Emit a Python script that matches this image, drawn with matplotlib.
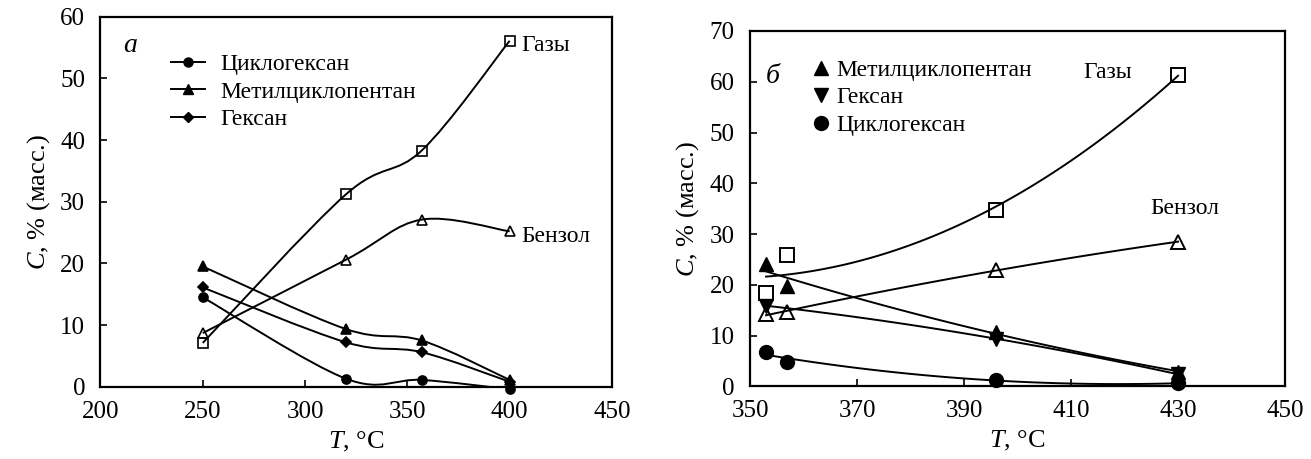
import numpy as np
import matplotlib
matplotlib.use("Agg")
import matplotlib.pyplot as plt
from matplotlib.path import Path
from matplotlib.patches import PathPatch

plt.rcParams['font.family'] = ['Liberation Serif', 'DejaVu Serif']
plt.rcParams['mathtext.fontset'] = 'custom'
plt.rcParams['mathtext.rm'] = 'Liberation Serif'
plt.rcParams['mathtext.it'] = 'Liberation Serif:italic'
plt.rcParams['font.size'] = 17

# panel a (smoothed lines)
t_a = [250, 320, 357, 400]
gas_a = [7.1, 31.2, 38.3, 56.1]
benz_a = [8.7, 20.6, 27.1, 25.2]
mcp_a = [19.5, 9.35, 7.5, 1.1]
hex_a = [16.1, 7.2, 5.6, 0.8]
chx_a = [14.5, 1.3, 1.1, -0.4]

# panel b (points + trend lines)
t_b = [353, 357, 396, 430]
gas_b = [18.4, 25.8, 34.7, 61.4]
benz_b = [14.3, 14.6, 22.9, 28.5]
mcp_b = [24.1, 19.7, 10.7, 2.9]
t_hex_b = [353, 396, 430]
hex_b = [15.9, 9.4, 2.4]
chx_b = [6.8, 4.9, 1.3, 0.6]


def smooth_path(x, y):
    # Excel-like smoothed line: Catmull-Rom segments as cubic Bezier
    pts = np.column_stack([x, y]).astype(float)
    verts = [pts[0]]
    codes = [Path.MOVETO]
    n = len(pts)
    for i in range(n - 1):
        p0 = pts[i - 1] if i > 0 else pts[i]
        p1 = pts[i]
        p2 = pts[i + 1]
        p3 = pts[i + 2] if i + 2 < n else pts[i + 1]
        verts += [p1 + (p2 - p0) / 6, p2 - (p3 - p1) / 6, p2]
        codes += [Path.CURVE4] * 3
    return Path(verts, codes)


def smooth_series(ax, x, y, marker, mfc, ms):
    ax.add_patch(PathPatch(smooth_path(x, y), fc='none', ec='black', lw=1.4))
    ax.plot(x, y, ls='none', marker=marker, mfc=mfc, mec='black', ms=ms,
            mew=1.2, clip_on=False, zorder=3)


def trend(ax, x, y, deg=2):
    coef = np.polyfit(x, y, deg)
    xx = np.linspace(min(x), max(x), 100)
    ax.plot(xx, np.polyval(coef, xx), color='black', lw=1.4)


fig = plt.figure(figsize=(13.11, 4.59), dpi=100)
ax1 = fig.add_axes([0.0766, 0.1575, 0.3902, 0.806])
ax2 = fig.add_axes([0.5721, 0.158, 0.4081, 0.7745])

# ---- panel a
smooth_series(ax1, t_a, gas_a, 's', 'none', 6.5)
smooth_series(ax1, t_a, benz_a, '^', 'none', 6.5)
smooth_series(ax1, t_a, mcp_a, '^', 'black', 6.5)
smooth_series(ax1, t_a, hex_a, 'D', 'black', 5.5)
smooth_series(ax1, t_a, chx_a, 'o', 'black', 6.5)

h1, = ax1.plot([], [], color='black', lw=1.4, marker='o', ms=6.5, label='Циклогексан')
h2, = ax1.plot([], [], color='black', lw=1.4, marker='^', ms=6.5, label='Метилциклопентан')
h3, = ax1.plot([], [], color='black', lw=1.4, marker='D', ms=5.5, label='Гексан')
ax1.legend(handles=[h1, h2, h3], loc='upper left', bbox_to_anchor=(0.138, 0.9),
           frameon=False, borderpad=0, borderaxespad=0, handlelength=1.45,
           handletextpad=0.65, labelspacing=0.25, fontsize=17)

ax1.set_xlim(200, 450)
ax1.set_ylim(0, 60)
ax1.set_xticks([200, 250, 300, 350, 400, 450])
ax1.set_yticks([0, 10, 20, 30, 40, 50, 60])
ax1.text(211, 55.4, 'a', fontstyle='italic', fontsize=20, va='center')
ax1.text(405.5, 55.3, 'Газы', va='center')
ax1.text(405.5, 24.4, 'Бензол', va='center')
ax1.set_xlabel(r'$\mathit{T}$, °C', fontsize=19, labelpad=5)
ax1.set_ylabel(r'$\mathit{C}$, % (масс.)', fontsize=19, labelpad=6)

# ---- panel b
trend(ax2, t_b, gas_b)
trend(ax2, t_b, benz_b)
trend(ax2, t_b, mcp_b)
trend(ax2, t_hex_b, hex_b)
trend(ax2, t_b, chx_b)
ax2.plot(t_b, gas_b, ls='none', marker='s', mfc='none', mec='black', ms=10, mew=1.4)
ax2.plot(t_b, benz_b, ls='none', marker='^', mfc='none', mec='black', ms=10, mew=1.4)
m1, = ax2.plot(t_b, mcp_b, ls='none', marker='^', color='black', ms=10,
               label='Метилциклопентан')
m2, = ax2.plot(t_hex_b, hex_b, ls='none', marker='v', color='black', ms=10,
               label='Гексан')
m3, = ax2.plot(t_b, chx_b, ls='none', marker='o', color='black', ms=10,
               label='Циклогексан', clip_on=False)
ax2.legend(handles=[m1, m2, m3], loc='upper left', bbox_to_anchor=(0.12, 0.92),
           frameon=False, borderpad=0, borderaxespad=0, handlelength=0.6,
           handletextpad=0.35, labelspacing=0.25, numpoints=1, fontsize=17)

ax2.set_xlim(350, 450)
ax2.set_ylim(0, 70)
ax2.set_xticks([350, 370, 390, 410, 430, 450])
ax2.set_yticks([0, 10, 20, 30, 40, 50, 60, 70])
ax2.text(353.0, 61.1, 'б', fontstyle='italic', fontsize=20, va='center')
ax2.text(416.8, 61.8, 'Газы', va='center', ha='center')
ax2.text(431.3, 35.0, 'Бензол', va='center', ha='center')
ax2.set_xlabel(r'$\mathit{T}$, °C', fontsize=19, labelpad=5)
ax2.set_ylabel(r'$\mathit{C}$, % (масс.)', fontsize=19, labelpad=6)

for ax in (ax1, ax2):
    for s in ax.spines.values():
        s.set_linewidth(1.6)
    ax.tick_params(direction='in', length=5, width=1.2, labelsize=18)
    ax.tick_params(axis='x', pad=10)
    ax.tick_params(axis='y', pad=11)

fig.savefig('out.png', dpi=100)
